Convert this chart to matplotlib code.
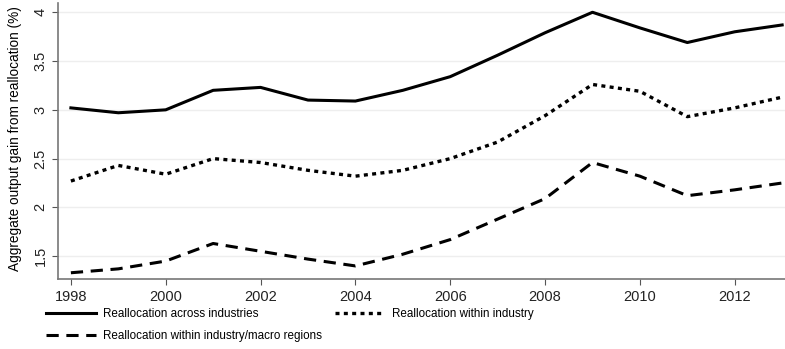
import matplotlib.pyplot as plt
from matplotlib.lines import Line2D

plt.rcParams['font.family'] = ['Liberation Sans', 'DejaVu Sans']

years = list(range(1998, 2014))
across = [3.02, 2.97, 3.00, 3.20, 3.23, 3.10, 3.09, 3.20, 3.34, 3.56, 3.79, 4.00, 3.84, 3.69, 3.80, 3.87]
within = [2.27, 2.43, 2.34, 2.50, 2.46, 2.38, 2.32, 2.38, 2.50, 2.67, 2.94, 3.26, 3.19, 2.93, 3.02, 3.13]
macro = [1.33, 1.37, 1.45, 1.63, 1.55, 1.47, 1.40, 1.52, 1.67, 1.88, 2.09, 2.46, 2.32, 2.12, 2.18, 2.25]

labels = ['Reallocation across industries',
          'Reallocation within industry',
          'Reallocation within industry/macro regions']
xticks = [1998, 2000, 2002, 2004, 2006, 2008, 2010, 2012]
yticks = [1.5, 2, 2.5, 3, 3.5, 4]
ytick_labels = ['1.5', '2', '2.5', '3', '3.5', '4']

styles = ['-', (0, (1.2, 1.3)), (0, (4, 2.5))]
widths = [2.2, 2.4, 2.2]

fig = plt.figure(figsize=(7.85, 3.49), dpi=100)
ax = fig.add_axes([0.074, 0.2, 0.926, 0.79])

ax.plot(years, across, color='black', lw=widths[0], ls=styles[0])
ax.plot(years, within, color='black', lw=widths[1], ls=styles[1])
ax.plot(years, macro, color='black', lw=widths[2], ls=styles[2])

ax.set_xlim(1997.73, 2013.06)
ax.set_ylim(1.264, 4.09)
ax.set_xticks(xticks)
ax.set_yticks(yticks)
ax.set_yticklabels(ytick_labels, rotation=90, va='center')
ax.tick_params(axis='both', colors='#555555', labelcolor='#222222', labelsize=10.5, length=4)
ax.grid(axis='y', color='#eeeeee', lw=1)
ax.set_axisbelow(True)
for s in ['top', 'right']:
    ax.spines[s].set_visible(False)
for s in ['left', 'bottom']:
    ax.spines[s].set_color('#777777')
    ax.spines[s].set_linewidth(1.2)
ax.set_ylabel('Aggregate output gain from reallocation (%)', fontsize=9.8, labelpad=1)
ax.yaxis.set_label_coords(-0.049, 0.51)

handles = [Line2D([], [], color='black', lw=widths[i], ls=styles[i]) for i in range(3)]
# ncol=2 fills column-wise: across, macro | within
order = [0, 2, 1]
fig.legend([handles[i] for i in order], [labels[i] for i in order],
           ncol=2, frameon=False, loc='upper left', bbox_to_anchor=(0.058, 0.117),
           fontsize=8.4, handlelength=4.3, handletextpad=0.6, columnspacing=1.1,
           labelspacing=0.85, borderaxespad=0, borderpad=0)

fig.savefig('out.png', dpi=100)
